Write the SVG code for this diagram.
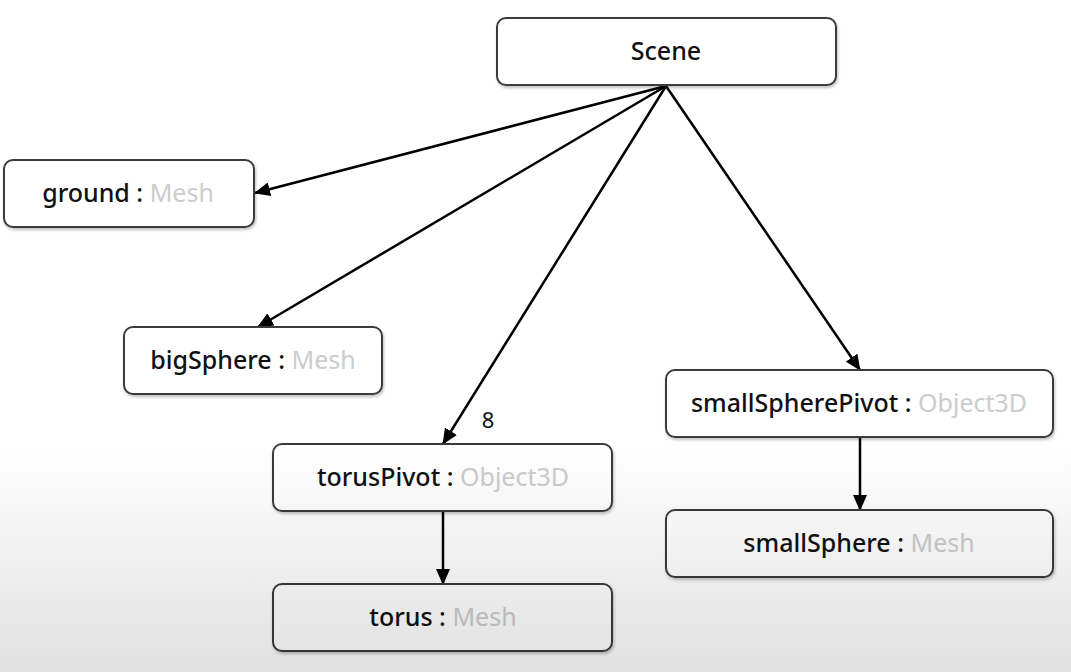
<svg xmlns="http://www.w3.org/2000/svg" width="1071" height="672" viewBox="0 0 1071 672">
<style>
.box{fill:#ffffff;stroke:#3a3a3a;stroke-width:2;filter:url(#sh)}
.t{font-family:"Noto Sans","Open Sans",sans-serif;font-size:25px;text-anchor:middle;fill:#111111}
.n{font-weight:500}
.ty{fill:#cccccc;font-weight:400}
.e{stroke:#000000;stroke-width:2.5;fill:none;marker-end:url(#ah)}
</style>
<defs>
<linearGradient id="bg" x1="0" y1="0" x2="0" y2="1">
<stop offset="0" stop-color="#000000" stop-opacity="0"/>
<stop offset="0.66" stop-color="#000000" stop-opacity="0"/>
<stop offset="1" stop-color="#000000" stop-opacity="0.12"/>
</linearGradient>
<filter id="sh" x="-5%" y="-10%" width="110%" height="130%">
<feDropShadow dx="1" dy="2" stdDeviation="1.5" flood-color="#000000" flood-opacity="0.25"/>
</filter>
<marker id="ah" markerWidth="16" markerHeight="14" refX="15" refY="7" orient="auto" markerUnits="userSpaceOnUse">
<path d="M0,0 L16,7 L0,14 z" fill="#000000"/>
</marker>
</defs>
<rect x="0" y="0" width="1071" height="672" fill="#ffffff"/>
<g id="connectors">
<line class="e" x1="666" y1="86" x2="255" y2="193"/>
<line class="e" x1="666" y1="86" x2="258" y2="327"/>
<line class="e" x1="666" y1="86" x2="443" y2="444"/>
<line class="e" x1="666" y1="86" x2="860" y2="370"/>
<line class="e" x1="443" y1="511" x2="443" y2="584"/>
<line class="e" x1="860" y1="437" x2="860" y2="510"/>
<text class="t" x="488" y="428" style="font-size:22px">8</text>
</g>
<g id="scene">
<rect class="box" x="497" y="18" width="339" height="67" rx="9"/>
<text class="t n" x="666" y="60">Scene</text>
</g>
<g id="ground">
<rect class="box" x="4" y="160" width="250" height="67" rx="9"/>
<text class="t" x="128" y="202"><tspan class="n">ground : </tspan><tspan class="ty">Mesh</tspan></text>
</g>
<g id="bigSphere">
<rect class="box" x="124" y="327" width="258" height="67" rx="9"/>
<text class="t" x="253" y="369"><tspan class="n">bigSphere : </tspan><tspan class="ty">Mesh</tspan></text>
</g>
<g id="torusPivot">
<rect class="box" x="273" y="444" width="339" height="67" rx="9"/>
<text class="t" x="443" y="486"><tspan class="n">torusPivot : </tspan><tspan class="ty">Object3D</tspan></text>
</g>
<g id="torus">
<rect class="box" x="273" y="584" width="339" height="67" rx="9"/>
<text class="t" x="443" y="626"><tspan class="n">torus : </tspan><tspan class="ty">Mesh</tspan></text>
</g>
<g id="smallSpherePivot">
<rect class="box" x="666" y="370" width="387" height="67" rx="9"/>
<text class="t" x="859" y="412"><tspan class="n">smallSpherePivot : </tspan><tspan class="ty">Object3D</tspan></text>
</g>
<g id="smallSphere">
<rect class="box" x="666" y="510" width="387" height="67" rx="9"/>
<text class="t" x="859" y="552"><tspan class="n">smallSphere : </tspan><tspan class="ty">Mesh</tspan></text>
</g>
<rect x="0" y="0" width="1071" height="672" fill="url(#bg)" pointer-events="none"/>
</svg>
